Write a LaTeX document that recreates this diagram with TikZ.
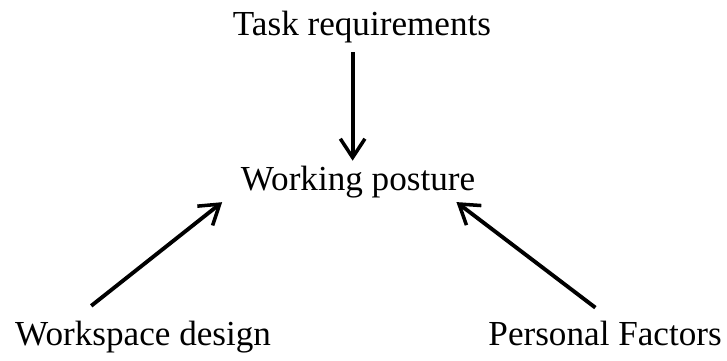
\documentclass[tikz,border=0pt]{standalone}
\usepackage{fontspec}
\setmainfont{Liberation Serif}
\usetikzlibrary{arrows.meta}
\begin{document}
\begin{tikzpicture}[
    x=0.03cm, y=-0.03cm,
    factor/.style={inner sep=0pt, font=\fontsize{30}{36}\selectfont},
    arr/.style={-{Straight Barb[length=16pt,width=21pt,line width=3pt]}, line width=3.3pt}
]
    \useasboundingbox (0,0) rectangle (727,360);

    % Factors
    \node[factor, anchor=base] (task) at (362,35) {Task requirements};
    \node[factor, anchor=base] (post) at (358,190) {Working posture};
    \node[factor, anchor=base west] (work) at (15,345) {Workspace design};
    \node[factor, anchor=base east] (pers) at (722,345) {Personal Factors};

    % Influences
    \draw[arr, shorten <=8pt, shorten >=4pt] ([xshift=-8pt]task.south) -- ([xshift=-8pt]task.south |- post.north);
    \draw[arr, shorten <=20pt, shorten >=6pt] ([xshift=-60pt]work.north) -- ([xshift=-11pt]post.south west);
    \draw[arr, shorten <=18pt, shorten >=6pt] ([xshift=6pt]pers.north) -- ([xshift=-21pt]post.south east);

\end{tikzpicture}
\end{document}
